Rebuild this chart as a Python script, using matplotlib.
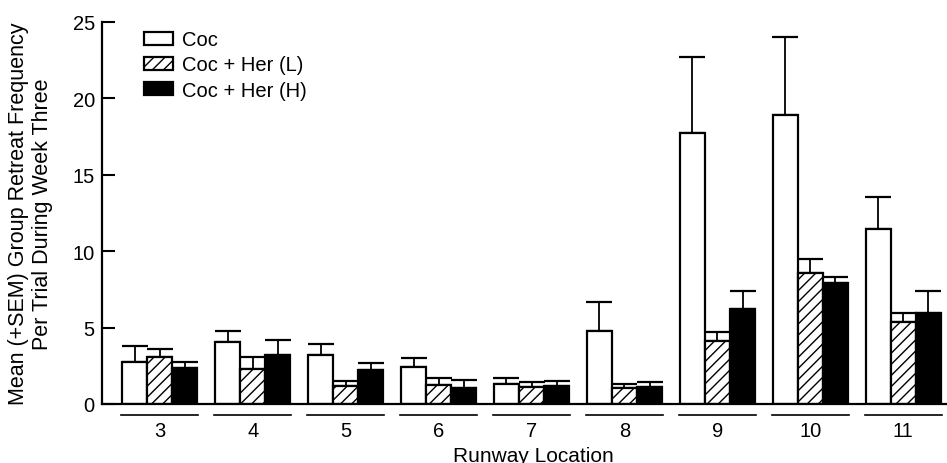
import numpy as np
import matplotlib
matplotlib.use("Agg")
import matplotlib.pyplot as plt
import matplotlib.transforms as mtransforms

plt.rcParams['font.family'] = ['Liberation Sans', 'DejaVu Sans']
plt.rcParams['hatch.linewidth'] = 1.0

# Data
locations = [3, 4, 5, 6, 7, 8, 9, 10, 11]
coc = [2.76, 4.03, 3.20, 2.44, 1.29, 4.75, 17.71, 18.87, 11.44]
coc_top = [3.81, 4.79, 3.90, 3.01, 1.70, 6.67, 22.66, 24.01, 13.51]
her_l = [3.05, 2.27, 1.16, 1.26, 1.11, 1.03, 4.14, 8.58, 5.34]
her_l_top = [3.59, 3.07, 1.50, 1.72, 1.42, 1.31, 4.73, 9.50, 5.95]
her_h = [2.33, 3.22, 2.20, 1.07, 1.18, 1.09, 6.21, 7.91, 5.93]
her_h_top = [2.75, 4.20, 2.66, 1.55, 1.50, 1.44, 7.39, 8.28, 7.37]
labels = ['Coc', 'Coc + Her (L)', 'Coc + Her (H)']

x = np.array(locations, dtype=float)
w = 0.27

fig = plt.figure(figsize=(9.47, 4.64), dpi=100)
ax = fig.add_axes([0.1074, 0.1272, 0.8926, 0.824])

series = [(coc, coc_top, dict(facecolor='white', hatch=None)),
          (her_l, her_l_top, dict(facecolor='white', hatch='///')),
          (her_h, her_h_top, dict(facecolor='black', hatch=None))]

for i, (vals, tops, style) in enumerate(series):
    vals = np.array(vals)
    err = np.array(tops) - vals
    pos = x + (i - 1) * w
    ax.bar(pos, vals, w, edgecolor='black', linewidth=1.6,
           label=labels[i], zorder=2, **style)
    ax.errorbar(pos, vals, yerr=[np.zeros_like(err), err], fmt='none',
                ecolor='black', elinewidth=1.3, capsize=9.5, capthick=1.6,
                zorder=1)

ax.set_xlim(2.375, 11.47)
ax.set_ylim(0, 25)
ax.set_yticks([0, 5, 10, 15, 20, 25])
ax.tick_params(axis='y', direction='in', length=9, width=1.5,
               labelsize=14.5, pad=5)
ax.set_xticks(locations)
ax.set_xticklabels([str(v) for v in locations])
ax.tick_params(axis='x', length=0, labelsize=14.5, pad=12)

for s in ['top', 'right']:
    ax.spines[s].set_visible(False)
ax.spines['left'].set_linewidth(1.6)
ax.spines['bottom'].set_linewidth(1.6)

# group underlines
trans = mtransforms.blended_transform_factory(ax.transData, ax.transAxes)
for v in locations:
    ax.plot([v - 0.415, v + 0.415], [-0.029, -0.029], color='black',
            linewidth=1.2, transform=trans, clip_on=False)

fig.text(0.032, 0.539, 'Mean (+SEM) Group Retreat Frequency\nPer Trial During Week Three',
         rotation=90, ha='center', va='center', multialignment='center',
         fontsize=15.5, linespacing=1.17)
fig.text(0.563, 0.017, 'Runway Location', ha='center', va='center', fontsize=15)

ax.legend(loc='upper left', bbox_to_anchor=(0.05, 0.977), frameon=False,
          fontsize=14.5, handlelength=1.45, handleheight=0.65, handletextpad=0.45,
          labelspacing=0.3, borderpad=0, borderaxespad=0)

fig.savefig('out.png', dpi=100)
